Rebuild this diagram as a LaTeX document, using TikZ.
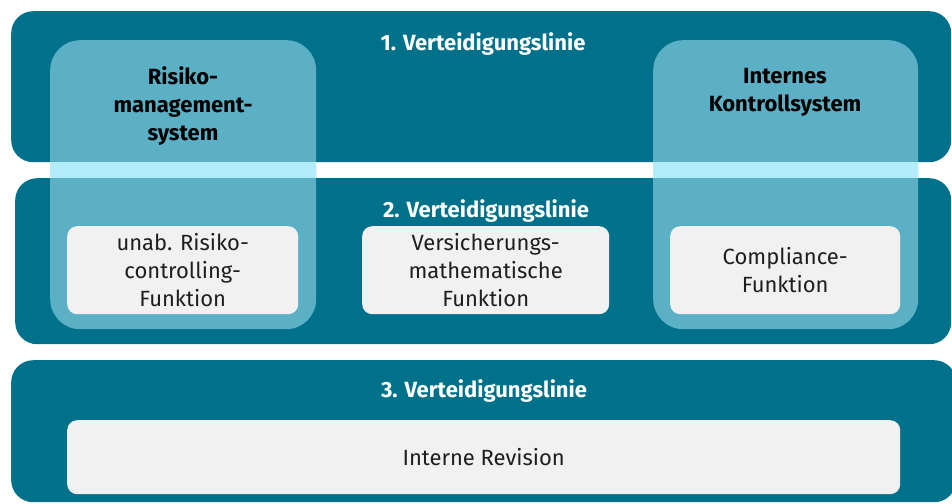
\documentclass[tikz,border=0pt]{standalone}
\usepackage{fontspec}
\setmainfont{Fira Sans}
\usetikzlibrary{positioning}
\definecolor{bandblue}{HTML}{00718B}
\definecolor{pillarblue}{HTML}{5CB0C6}
\definecolor{stripcyan}{HTML}{B3EDFC}
\definecolor{boxgrey}{HTML}{F1F1F1}
\definecolor{textdark}{HTML}{1E1E1E}
\newcommand{\diafont}{\fontsize{22}{28}\selectfont}

\begin{document}
\begin{tikzpicture}[x=1pt,y=-1pt,
  band/.style={fill=bandblue, rounded corners=22pt, inner sep=0pt, anchor=north west},
  pillar/.style={fill=pillarblue, rounded corners=30pt, inner sep=0pt, anchor=north west},
  fbox/.style={fill=boxgrey, rounded corners=10pt, inner sep=0pt, anchor=north west,
    align=center, text=textdark, font=\diafont},
  linelabel/.style={text=white, font=\diafont\bfseries},
  pillarlabel/.style={text=black, align=center, font=\diafont\bfseries}]

 \useasboundingbox (0,0) rectangle (952,503);

 % the three lines of defence
 \node[band, minimum width=940pt, minimum height=151pt] (band1) at (11,11) {};
 \node[band, minimum width=936pt, minimum height=166pt] (band2) at (15,178) {};
 \node[band, minimum width=945pt, minimum height=142pt] (band3) at (11,360) {};

 % pillars across line 1 and 2
 \node[pillar, minimum width=266pt, minimum height=289pt] (rms) at (50,40) {};
 \node[pillar, minimum width=265pt, minimum height=289pt] (iks) at (653,40) {};
 \coordinate (gaptop) at (0,162);
 \coordinate (gapbot) at (0,178);
 \fill[stripcyan] (rms.west |- gaptop) rectangle (rms.east |- gapbot);
 \fill[stripcyan] (iks.west |- gaptop) rectangle (iks.east |- gapbot);

 \node[linelabel] (l1) at (483,44) {1. Verteidigungslinie};
 \node[linelabel] (l2) at (486,211) {2. Verteidigungslinie};
 \node[linelabel] (l3) at (484,391) {3. Verteidigungslinie};

 \node[pillarlabel] (rmstext) at (183,106) {Risiko-\\management-\\system};
 \node[pillarlabel] (ikstext) at (785,92) {Internes\\Kontrollsystem};

 % functions
 \node[fbox, minimum width=231pt, minimum height=88pt] (rcf) at (67,226)
   {unab. Risiko-\\controlling-\\Funktion};
 \node[fbox, minimum width=247pt, minimum height=88pt] (vmf) at (362,226)
   {Versicherungs-\\mathematische\\Funktion};
 \node[fbox, minimum width=230pt, minimum height=88pt] (cf) at (670,226)
   {Compliance-\\Funktion};
 \node[fbox, minimum width=833pt, minimum height=74pt] (ir) at (67,420)
   {Interne Revision};

\end{tikzpicture}
\end{document}
